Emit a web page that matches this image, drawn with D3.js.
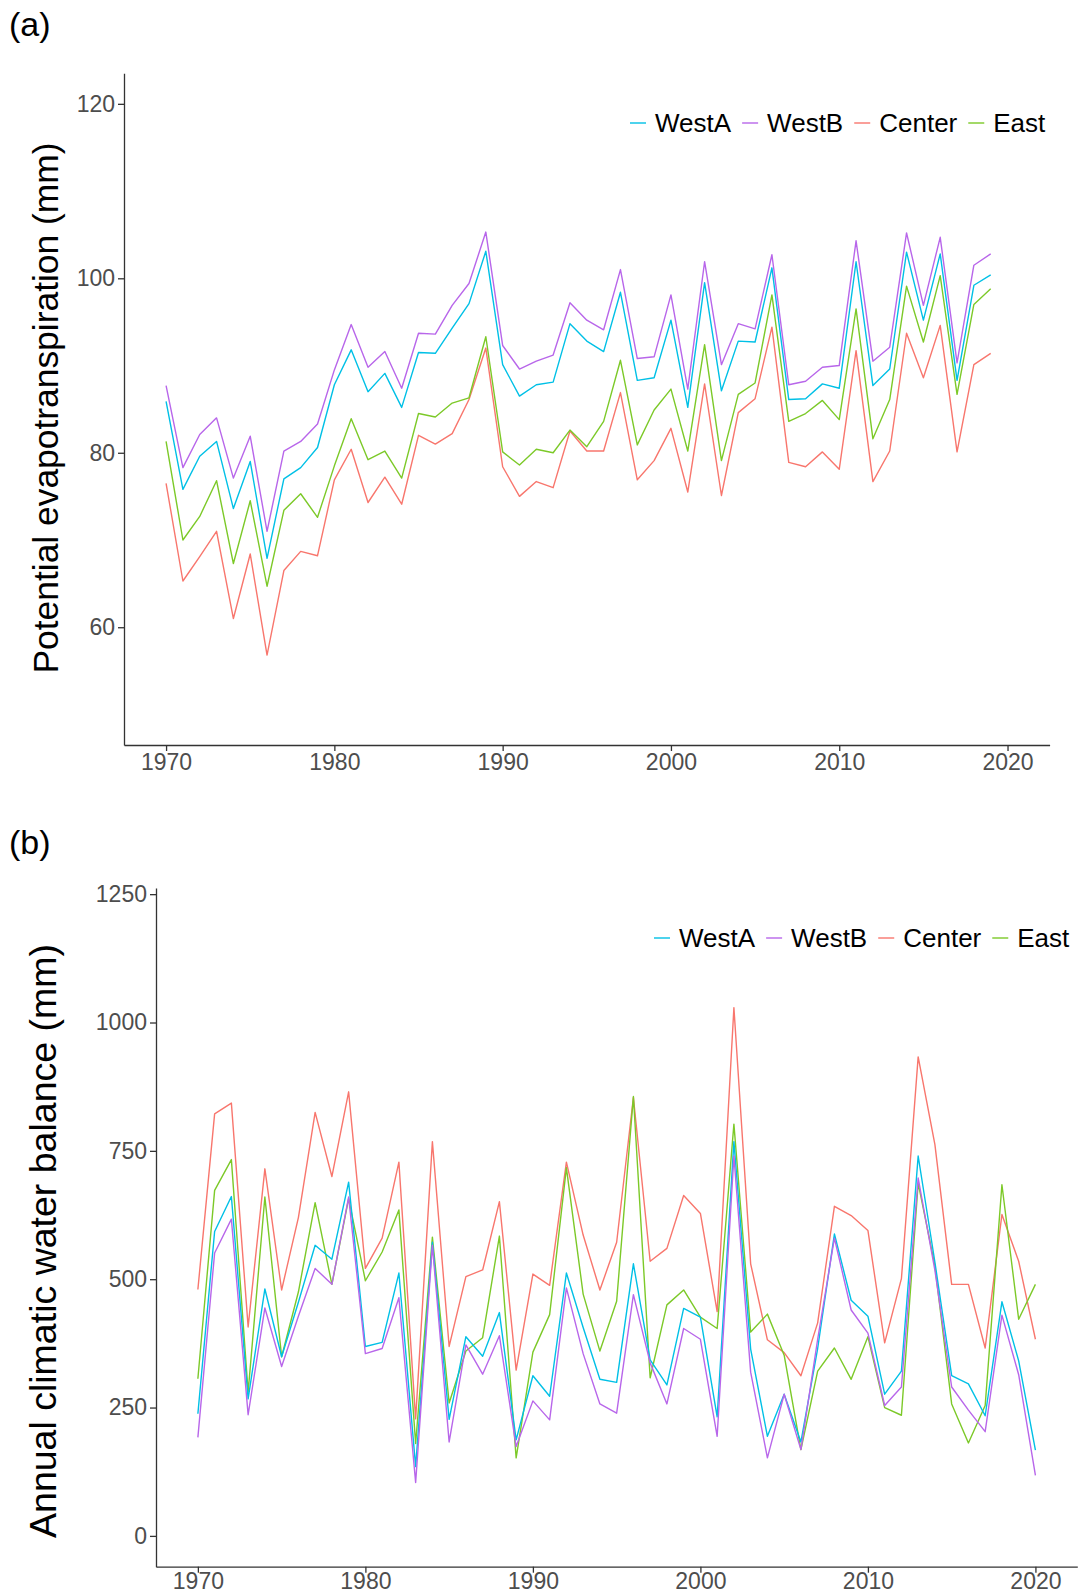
<!DOCTYPE html>
<meta charset="utf-8">
<style>
  body { margin: 0; background: white; }
  svg { font-family: "Liberation Sans", Arial, sans-serif; display: block; }
  .tick text { fill: #4d4d4d; font-size: 23px; }
  .tick line, .domain { stroke: #333; stroke-width: 1.3; }
  .series { fill: none; stroke-width: 1.4; stroke-linejoin: round; }
  .legend text { font-size: 26px; fill: black; }
  .ytitle { fill: black; }
  .plabel { font-size: 34px; fill: black; }
</style>
<body>
</body>
<script src="https://cdn.jsdelivr.net/npm/d3@7/dist/d3.min.js"></script>
<script>
  // categories
  const years = [
    1970, 1971, 1972, 1973, 1974, 1975, 1976, 1977, 1978, 1979,
    1980, 1981, 1982, 1983, 1984, 1985, 1986, 1987, 1988, 1989,
    1990, 1991, 1992, 1993, 1994, 1995, 1996, 1997, 1998, 1999,
    2000, 2001, 2002, 2003, 2004, 2005, 2006, 2007, 2008, 2009,
    2010, 2011, 2012, 2013, 2014, 2015, 2016, 2017, 2018, 2019,
    2020];
  const regions = ['WestA', 'WestB', 'Center', 'East'];
  const yearTicks = [1970, 1980, 1990, 2000, 2010, 2020];
  const petTicks = [60, 80, 100, 120];
  const cwbTicks = [0, 250, 500, 750, 1000, 1250];

  // (a) potential evapotranspiration, 1970-2019
  const petWestA = [
    85.9, 75.8, 79.6, 81.3, 73.6, 79.0, 67.9, 77.0, 78.3, 80.6,
    87.8, 91.8, 87.0, 89.1, 85.2, 91.5, 91.4, 94.3, 97.1, 103.1,
    90.1, 86.5, 87.8, 88.1, 94.8, 92.8, 91.6, 98.4, 88.3, 88.6,
    95.2, 85.2, 99.5, 87.1, 92.8, 92.7, 101.2, 86.1, 86.2, 87.9,
    87.4, 101.9, 87.7, 89.6, 103.0, 95.2, 102.8, 88.3, 99.2, 100.4];
  const petWestB = [
    87.7, 78.3, 82.1, 84.0, 77.1, 81.9, 71.0, 80.2, 81.3, 83.3,
    89.5, 94.7, 89.8, 91.6, 87.4, 93.7, 93.6, 96.9, 99.4, 105.3,
    92.3, 89.6, 90.5, 91.2, 97.2, 95.2, 94.1, 101.0, 90.8, 91.0,
    98.1, 87.3, 101.9, 90.1, 94.8, 94.2, 102.7, 87.8, 88.2, 89.8,
    90.0, 104.3, 90.5, 92.1, 105.2, 96.9, 104.7, 90.3, 101.5, 102.8];
  const petCenter = [
    76.5, 65.3, 68.1, 71.0, 61.0, 68.4, 56.8, 66.5, 68.7, 68.2,
    76.9, 80.4, 74.3, 77.2, 74.1, 82.0, 81.0, 82.2, 86.1, 92.0,
    78.4, 75.0, 76.7, 76.0, 82.5, 80.2, 80.2, 86.9, 76.9, 79.1,
    82.8, 75.5, 87.9, 75.1, 84.6, 86.2, 94.4, 78.9, 78.4, 80.1,
    78.1, 91.7, 76.7, 80.2, 93.7, 88.6, 94.6, 80.1, 90.1, 91.4];
  const petEast = [
    81.3, 70.0, 72.7, 76.8, 67.3, 74.5, 64.7, 73.4, 75.3, 72.6,
    78.5, 83.9, 79.2, 80.2, 77.1, 84.5, 84.1, 85.7, 86.3, 93.3,
    80.1, 78.6, 80.4, 80.0, 82.6, 80.7, 83.6, 90.6, 80.9, 84.9,
    87.3, 80.2, 92.4, 79.1, 86.7, 88.0, 98.1, 83.6, 84.5, 86.0,
    83.8, 96.5, 81.6, 86.1, 99.1, 92.7, 100.3, 86.7, 97.0, 98.8];

  // (b) annual climatic water balance, 1970-2020
  const cwbWestA = [
    238, 593, 661, 267, 481, 349, 455, 566, 539, 689,
    369, 377, 512, 135, 572, 227, 388, 350, 435, 187,
    312, 272, 512, 406, 305, 299, 530, 343, 294, 443,
    426, 232, 768, 364, 194, 276, 183, 365, 588, 459,
    428, 276, 321, 740, 533, 312, 296, 234, 456, 341,
    167];
  const cwbWestB = [
    192, 551, 617, 236, 444, 330, 428, 521, 490, 660,
    355, 365, 464, 104, 566, 183, 372, 315, 390, 174,
    263, 226, 483, 355, 257, 239, 470, 337, 257, 404,
    383, 194, 740, 319, 152, 276, 168, 383, 580, 440,
    395, 254, 290, 697, 517, 290, 245, 203, 430, 314,
    118];
  const cwbCenter = [
    480, 822, 843, 407, 715, 479, 620, 825, 700, 865,
    521, 580, 728, 228, 768, 369, 505, 518, 651, 323,
    510, 488, 728, 586, 479, 572, 854, 535, 560, 663,
    628, 437, 1029, 530, 382, 357, 312, 415, 642, 624,
    595, 376, 501, 933, 762, 490, 490, 366, 626, 535,
    383];
  const cwbEast = [
    306, 673, 733, 280, 660, 349, 475, 649, 490, 657,
    497, 553, 635, 180, 582, 259, 360, 386, 584, 152,
    358, 431, 717, 471, 360, 457, 856, 308, 450, 479,
    426, 404, 802, 397, 432, 352, 168, 321, 366, 305,
    388, 250, 235, 687, 526, 257, 181, 254, 684, 422,
    490];

  const color = d3.scaleOrdinal()
    .domain(regions)
    .range(['#00c0e6', '#b866ea', '#f8766d', '#7cc928']);
  const drawOrder = ['Center', 'East', 'WestA', 'WestB'];

  const w = 1078, h = 1595;
  const svg = d3.select('body').append('svg')
    .attr('width', w)
    .attr('height', h);

  function panel(p) {
    const x = d3.scaleLinear().domain([1967.5, 2022.5]).range([p.l, p.r]);
    const y = d3.scaleLinear().domain(p.yDomain).range([p.b, p.t]);
    const g = svg.append('g');

    // axes
    g.append('g')
      .attr('transform', `translate(0, ${p.b})`)
      .call(d3.axisBottom(x).tickValues(yearTicks).tickFormat(d3.format('d'))
        .tickSize(6).tickSizeOuter(0).tickPadding(p.xPad));
    g.append('g')
      .attr('transform', `translate(${p.l}, 0)`)
      .call(d3.axisLeft(y).tickValues(p.yTicks).tickFormat(d3.format('d'))
        .tickSize(6).tickSizeOuter(0).tickPadding(3));
    g.selectAll('.tick text').attr('font-size', null);

    // lines
    const line = d3.line()
      .x((d, i) => x(years[i]))
      .y(d => y(d));
    g.append('g').selectAll('path')
      .data(drawOrder.map(k => ({key: k, values: p.series[k]})))
      .join('path')
      .attr('class', 'series')
      .attr('stroke', d => color(d.key))
      .attr('d', d => line(d.values));

    // y title
    g.append('text')
      .attr('class', 'ytitle')
      .attr('transform', `translate(${p.titleX}, ${(p.titleY)}) rotate(-90)`)
      .attr('text-anchor', 'middle')
      .attr('dominant-baseline', 'central')
      .attr('font-size', p.titleSize)
      .text(p.title);

    // panel label
    g.append('text')
      .attr('class', 'plabel')
      .attr('x', 9).attr('y', p.labelY)
      .attr('dominant-baseline', 'central')
      .text(p.label);

    // legend
    const lg = g.append('g').attr('class', 'legend')
      .attr('transform', `translate(${p.legendX}, ${p.legendY})`);
    let cx = 0;
    regions.forEach(k => {
      lg.append('line')
        .attr('x1', cx).attr('x2', cx + 16)
        .attr('y1', 0).attr('y2', 0)
        .attr('stroke', color(k)).attr('stroke-width', 1.4);
      const t = lg.append('text')
        .attr('x', cx + 25).attr('y', 0)
        .attr('dominant-baseline', 'central')
        .text(k);
      cx += 25 + t.node().getComputedTextLength() + 11;
    });
  }

  panel({
    l: 124, r: 1049.6, t: 73.3, b: 745, xPad: 3,
    yDomain: [46.5, 123.5], yTicks: petTicks,
    series: {WestA: petWestA, WestB: petWestB, Center: petCenter, East: petEast},
    title: 'Potential evapotranspiration (mm)', titleX: 46, titleY: 408, titleSize: 35.4,
    label: '(a)', labelY: 24,
    legendX: 630, legendY: 123
  });

  panel({
    l: 156, r: 1077.3, t: 888, b: 1566.7, xPad: 0,
    yDomain: [-60, 1262], yTicks: cwbTicks,
    series: {WestA: cwbWestA, WestB: cwbWestB, Center: cwbCenter, East: cwbEast},
    title: 'Annual climatic water balance (mm)', titleX: 43, titleY: 1241, titleSize: 37.5,
    label: '(b)', labelY: 842,
    legendX: 654, legendY: 938
  });
</script>
